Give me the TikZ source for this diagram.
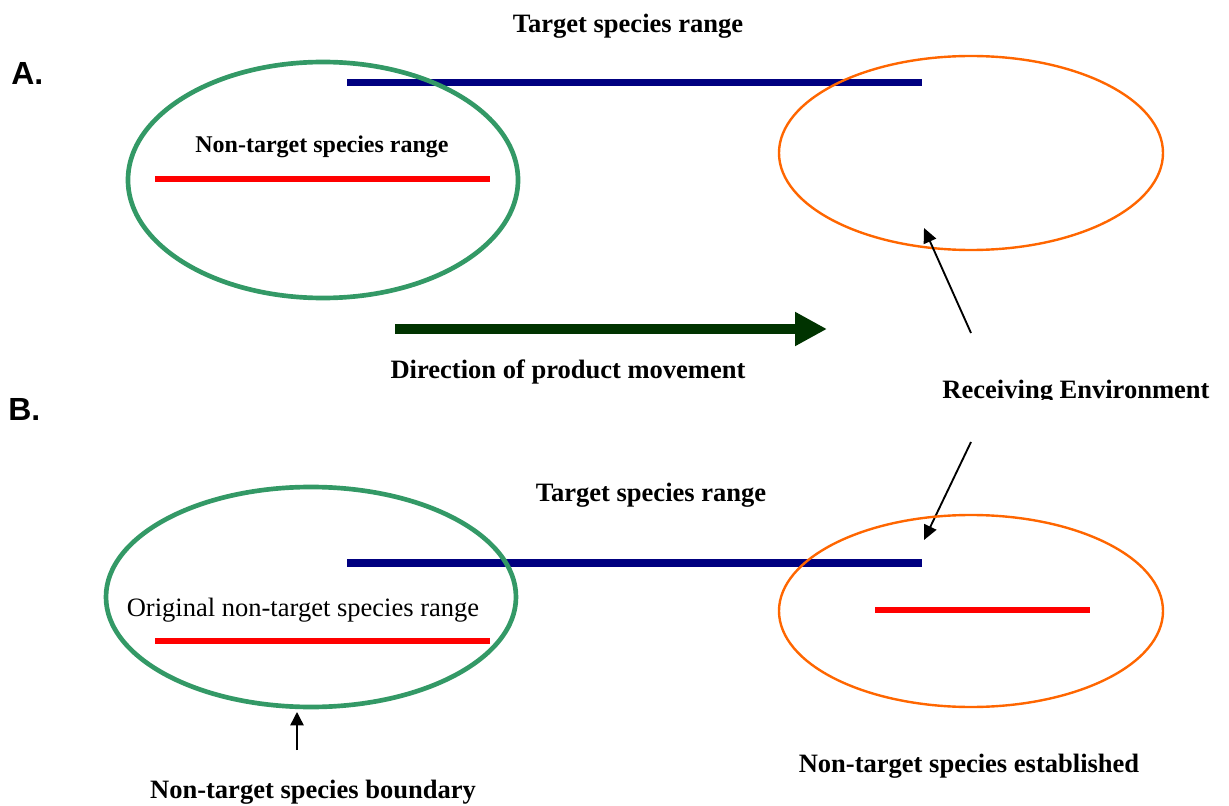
\documentclass[tikz,border=0pt]{standalone}
\usepackage{fontspec}
\setmainfont{Liberation Serif}
\newfontfamily\labfont{Liberation Sans}
\usetikzlibrary{arrows.meta}
\definecolor{navyline}{RGB}{0,0,128}
\definecolor{redline}{RGB}{255,0,0}
\definecolor{greenring}{RGB}{51,153,102}
\definecolor{orangering}{RGB}{255,102,0}
\definecolor{darkgreen}{RGB}{0,51,0}
\tikzset{
  lbl/.style={font=\fontsize{19.9}{24}\selectfont\bfseries, inner sep=0pt},
  lblsmall/.style={font=\fontsize{18}{22}\selectfont\bfseries, inner sep=0pt},
  lblreg/.style={font=\fontsize{19.9}{24}\selectfont, inner sep=0pt},
  panel/.style={font=\labfont\fontsize{24}{27}\selectfont\bfseries, inner sep=0pt, anchor=west},
  bluebar/.style={draw=navyline, line width=5.5pt},
  redbar/.style={draw=redline, line width=5pt},
  greenring/.style={draw=greenring, line width=3.5pt},
  orangering/.style={draw=orangering, line width=1.8pt},
  thinarrow/.style={draw=black, line width=1.4pt, -{Triangle[length=11pt,width=10pt]}},
  bigarrow/.style={draw=darkgreen, line width=7.5pt, -{Triangle[length=24pt,width=24pt]}},
}
\begin{document}
\begin{tikzpicture}[x=0.75pt,y=-0.75pt]
\useasboundingbox (0,0) rectangle (1229,806);
% ---------- Panel A ----------
\node[panel] (pA) at (11,73) {A.};
\node[lbl] (tA) at (628,26) {Target species range};
\coordinate (bA1) at (347,82.5); \coordinate (bA2) at (922,82.5);
\draw[bluebar] (bA1) -- (bA2);
\draw[greenring] (323,180) ellipse [x radius=195, y radius=118];
\node[lblsmall] (ntA) at (322,147) {Non-target species range};
\coordinate (rA1) at (155,179); \coordinate (rA2) at (490,179);
\draw[redbar] (rA1) -- (rA2);
\draw[orangering] (971,153) ellipse [x radius=192, y radius=97];
\coordinate (gA1) at (395,329); \coordinate (gA2) at (827,329);
\draw[bigarrow] (gA1) -- (gA2);
\node[lbl] (dir) at (568,372) {Direction of product movement};
% ---------- Receiving environment ----------
\begin{scope}
\clip (900,360) rectangle (1229,399);
\node[lbl] (recv) at (1076,392) {Receiving Environment};
\end{scope}
\coordinate (up1) at (971,333); \coordinate (up2) at (924,228);
\draw[thinarrow] (up1) -- (up2);
\coordinate (dn1) at (971,442); \coordinate (dn2) at (924,540);
\draw[thinarrow] (dn1) -- (dn2);
% ---------- Panel B ----------
\node[panel] (pB) at (8,409) {B.};
\node[lbl] (tB) at (651,495) {Target species range};
\coordinate (bB1) at (347,563); \coordinate (bB2) at (922,563);
\draw[bluebar] (bB1) -- (bB2);
\draw[greenring] (311,597) ellipse [x radius=205, y radius=110];
\node[lblreg] (orig) at (303,610) {Original non-target species range};
\coordinate (rB1) at (155,641); \coordinate (rB2) at (490,641);
\draw[redbar] (rB1) -- (rB2);
\draw[orangering] (971,611) ellipse [x radius=192, y radius=96];
\coordinate (rC1) at (875,610); \coordinate (rC2) at (1090,610);
\draw[redbar] (rC1) -- (rC2);
\coordinate (sm1) at (297,750); \coordinate (sm2) at (297,712);
\draw[draw=black, line width=1.1pt, -{Triangle[length=10pt,width=10pt]}] (sm1) -- (sm2);
\node[lbl] (bound) at (313,792) {Non-target species boundary};
\node[lbl] (estab) at (969,766) {Non-target species established};
\end{tikzpicture}
\end{document}
